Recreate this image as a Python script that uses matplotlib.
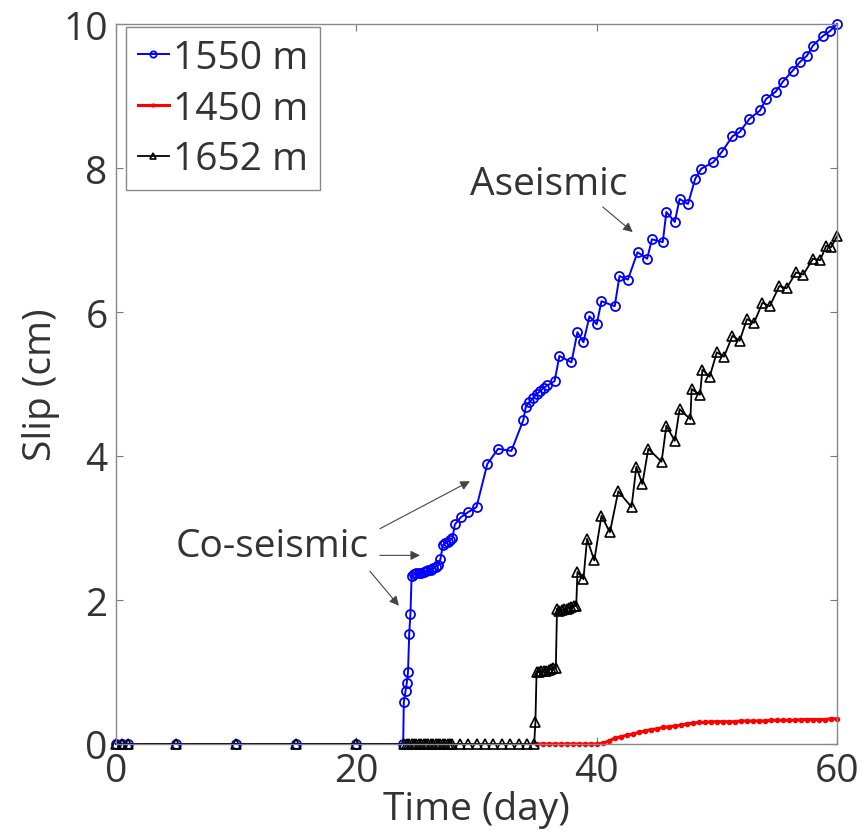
import matplotlib
matplotlib.use("Agg")
import matplotlib.pyplot as plt

plt.rcParams["font.family"] = ["Open Sans", "DejaVu Sans"]

# 1550 m (blue, open circles)
t_1550 = [0, 0.5, 1, 5, 10, 15, 20, 23.9, 23.95, 24.1, 24.2, 24.3, 24.4, 24.5,
          24.6, 24.8, 25.0, 25.2, 25.4, 25.6, 25.8, 26.0, 26.2, 26.4, 26.6, 26.8,
          27.0, 27.2, 27.4, 27.6, 27.8, 28.0, 28.2, 28.7, 29.3, 30.0, 30.9, 31.8,
          32.9, 33.9, 34.1, 34.4, 34.7, 35.0, 35.3, 35.6, 35.9, 36.5, 36.9, 37.9,
          38.4, 38.9, 39.4, 40.0, 40.4, 41.5, 41.9, 42.6, 43.4, 44.2, 44.6, 45.5,
          45.8, 46.5, 46.9, 47.6, 48.2, 48.7, 49.7, 50.4, 51.3, 51.9, 52.7, 53.6,
          54.1, 54.9, 55.5, 56.3, 56.9, 57.5, 58.0, 58.8, 59.4, 60.0]
s_1550 = [0, 0, 0, 0, 0, 0, 0, 0, 0.58, 0.74, 0.85, 1.0, 1.53, 1.8,
          2.33, 2.36, 2.37, 2.38, 2.38, 2.39, 2.40, 2.41, 2.42, 2.44, 2.46, 2.48,
          2.57, 2.76, 2.79, 2.81, 2.83, 2.86, 3.05, 3.15, 3.22, 3.29, 3.89, 4.1,
          4.07, 4.5, 4.68, 4.75, 4.8, 4.86, 4.9, 4.95, 4.98, 5.04, 5.39, 5.3,
          5.72, 5.58, 5.94, 5.83, 6.15, 6.08, 6.5, 6.45, 6.83, 6.74, 7.01, 6.97,
          7.39, 7.25, 7.57, 7.5, 7.85, 7.99, 8.08, 8.22, 8.44, 8.5, 8.68, 8.8,
          8.96, 9.06, 9.2, 9.35, 9.47, 9.56, 9.7, 9.83, 9.9, 10.0]

# 1450 m (red, dots)
t_1450 = [35.0, 35.5, 36.0, 36.5, 37.0, 37.5, 38.0, 38.5, 39.0, 39.5, 40.0,
          40.5, 41.0, 41.5, 42.0, 42.5, 43.0, 43.5, 44.0, 44.5, 45.0, 45.5,
          46.0, 46.5, 47.0, 47.5, 48.0, 48.5, 49.0, 49.5, 50.0, 50.5, 51.0,
          51.5, 52.0, 52.5, 53.0, 53.5, 54.0, 54.5, 55.0, 55.5, 56.0, 56.5,
          57.0, 57.5, 58.0, 58.5, 59.0, 59.5, 60.0]
s_1450 = [0, 0, 0, 0, 0, 0, 0, 0, 0, 0, 0,
          0.01, 0.04, 0.08, 0.10, 0.12, 0.14, 0.16, 0.18, 0.20, 0.21, 0.23,
          0.24, 0.25, 0.26, 0.28, 0.29, 0.30, 0.30, 0.31, 0.31, 0.31, 0.31,
          0.31, 0.32, 0.32, 0.32, 0.32, 0.32, 0.33, 0.33, 0.33, 0.33, 0.33,
          0.34, 0.34, 0.34, 0.34, 0.34, 0.35, 0.35]

# 1652 m (black, open triangles)
t_1652 = [0, 0.5, 1, 5, 10, 15, 20,
          24.0, 24.2, 24.4, 24.6, 24.8, 25.0, 25.2, 25.4, 25.6, 25.8, 26.0,
          26.2, 26.4, 26.6, 26.8, 27.0, 27.2, 27.4, 27.6, 27.8, 28.0,
          28.6, 29.3, 30.0, 30.7, 31.4, 32.1, 32.8, 33.5, 34.2, 34.8,
          34.9, 35.0, 35.2, 35.4, 35.6, 35.8, 36.0, 36.2, 36.4, 36.6,
          36.7, 36.9, 37.1, 37.3, 37.5, 37.7, 37.9, 38.1, 38.3,
          38.4, 38.9, 39.2, 39.8, 40.4, 41.1, 41.8, 42.9, 43.3, 43.8, 44.3,
          45.4, 45.8, 46.5, 46.9, 47.8, 47.9, 48.6, 48.8, 49.4, 50.0, 50.6,
          51.3, 51.9, 52.5, 53.1, 53.8, 54.4, 55.2, 55.8, 56.6, 57.2, 58.0,
          58.6, 59.1, 59.5, 60.0]
s_1652 = [0, 0, 0, 0, 0, 0, 0,
          0, 0, 0, 0, 0, 0, 0, 0, 0, 0, 0,
          0, 0, 0, 0, 0, 0, 0, 0, 0, 0,
          0, 0, 0, 0, 0, 0, 0, 0, 0, 0,
          0.3, 1.0, 1.0, 1.01, 1.02, 1.02, 1.03, 1.04, 1.05, 1.05,
          1.88, 1.85, 1.86, 1.87, 1.88, 1.89, 1.9, 1.91, 1.92,
          2.39, 2.29, 2.85, 2.55, 3.17, 2.94, 3.51, 3.29, 3.85, 3.61, 4.1,
          3.92, 4.42, 4.21, 4.65, 4.51, 4.93, 4.85, 5.2, 5.1, 5.44, 5.38,
          5.67, 5.6, 5.9, 5.85, 6.13, 6.08, 6.36, 6.33, 6.55, 6.52, 6.74,
          6.72, 6.92, 6.9, 7.05]

fig = plt.figure(figsize=(8.61, 8.37), dpi=100)
ax = fig.add_axes([116 / 861, 1 - 745 / 837, 721 / 861, 720 / 837])

ax.plot(t_1550, s_1550, color="#0000ff", lw=1.4, marker="o", ms=6.5,
        mfc="none", mew=1.3, label="1550 m", clip_on=False)
ax.plot(t_1450, s_1450, color="#ff0000", lw=2.2, marker=".", ms=6,
        label="1450 m", clip_on=False)
ax.plot(t_1652, s_1652, color="black", lw=1.3, marker="^", ms=6.5,
        mfc="none", mew=1.2, label="1652 m", clip_on=False)

ax.set_xlim(0, 60)
ax.set_ylim(0, 10)
ax.set_xticks([0, 20, 40, 60])
ax.set_yticks([0, 2, 4, 6, 8, 10])
ax.tick_params(direction="in", length=5, width=0.8, colors="#777777",
               labelcolor="#333333", labelsize=28, top=True, right=True)
ax.tick_params(axis="x", pad=6)
ax.tick_params(axis="y", pad=6)
for sp in ax.spines.values():
    sp.set_color("#888888")
    sp.set_linewidth(1.0)

ax.set_xlabel("Time (day)", fontsize=28, color="#333333", labelpad=0)
ax.set_ylabel("Slip (cm)", fontsize=28, color="#333333", labelpad=2)

# annotations
arrow = dict(arrowstyle="-|>", color="#444444", lw=0.8, mutation_scale=14,
             shrinkA=0, shrinkB=0)
ax.text(36.0, 7.78, "Aseismic", fontsize=28, color="#333333",
        ha="center", va="center")
ax.annotate("", xy=(43.0, 7.11), xytext=(40.5, 7.46), arrowprops=arrow)

ax.text(13.0, 2.75, "Co-seismic", fontsize=28, color="#333333",
        ha="center", va="center")
ax.annotate("", xy=(29.45, 3.65), xytext=(21.96, 2.99), arrowprops=arrow)
ax.annotate("", xy=(25.3, 2.62), xytext=(21.96, 2.62), arrowprops=arrow)
ax.annotate("", xy=(23.54, 1.92), xytext=(21.13, 2.40), arrowprops=arrow)

leg = ax.legend(loc="upper left", bbox_to_anchor=(10 / 721, 1 - 3 / 720),
                borderaxespad=0, fontsize=28, fancybox=False, framealpha=1,
                handlelength=0.8, handletextpad=0.1, borderpad=0.3,
                labelspacing=0.33, markerscale=0.7)
leg.get_frame().set_edgecolor("#888888")
leg.get_frame().set_linewidth(1.0)
for txt in leg.get_texts():
    txt.set_color("#333333")

fig.savefig("out.png", dpi=100)
